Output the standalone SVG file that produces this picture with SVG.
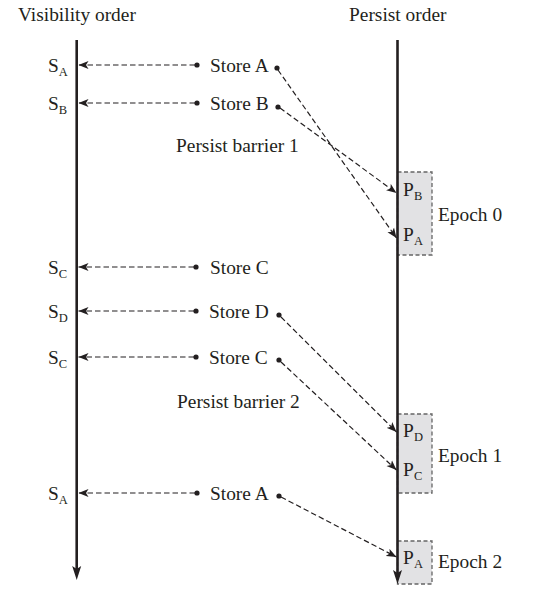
<svg xmlns="http://www.w3.org/2000/svg" width="546" height="602" viewBox="0 0 546 602">
<style>
text{font-family:"Liberation Serif","Times New Roman",serif;font-size:19.4px;fill:#231f20}
.sub{font-size:12.5px}
.dash{fill:none;stroke:#231f20;stroke-width:1.2;stroke-dasharray:5.5,3}
.axis{stroke:#231f20;stroke-width:2.6;fill:none}
.epoch{fill:#e2e2e4;stroke:#666;stroke-width:1.3;stroke-dasharray:4,2.5}
.dot{fill:#231f20}
</style>
<defs>
<marker id="ah" markerUnits="userSpaceOnUse" markerWidth="11" markerHeight="9" refX="10" refY="4.5" orient="auto">
<path d="M0,0.5 L10,4.5 L0,8.5 L2.5,4.5 z" fill="#231f20"/>
</marker>
</defs>
<rect width="546" height="602" fill="#fff"/>
<g id="epochs">
<g id="epoch0"><rect class="epoch" x="397.5" y="172" width="34.5" height="83"/><text x="438" y="221">Epoch 0</text></g>
<g id="epoch1"><rect class="epoch" x="397.5" y="414" width="34.5" height="79"/><text x="438" y="462">Epoch 1</text></g>
<g id="epoch2"><rect class="epoch" x="397.5" y="541" width="34.5" height="43"/><text x="438" y="568">Epoch 2</text></g>
</g>
<g id="axes">
<g id="visibility-axis">
<text x="18" y="21">Visibility order</text>
<line class="axis" x1="76.7" y1="40" x2="76.7" y2="570"/>
<path d="M76.7,580 L72.2,566 L76.7,569 L81.2,566 z" fill="#231f20"/>
</g>
<g id="persist-axis">
<text x="349" y="21">Persist order</text>
<line class="axis" x1="397.5" y1="40" x2="397.5" y2="574"/>
<path d="M397.5,584 L393,570 L397.5,573 L402,570 z" fill="#231f20"/>
</g>
</g>
<g id="visibility-labels">
<text x="48" y="72">S<tspan class="sub" y="76">A</tspan></text>
<text x="48" y="110">S<tspan class="sub" y="114">B</tspan></text>
<text x="48" y="274">S<tspan class="sub" y="278">C</tspan></text>
<text x="48" y="318">S<tspan class="sub" y="322">D</tspan></text>
<text x="48" y="364">S<tspan class="sub" y="368">C</tspan></text>
<text x="48" y="500">S<tspan class="sub" y="504">A</tspan></text>
</g>
<g id="stores">
<g id="store-a1"><circle class="dot" cx="197" cy="65" r="2.6"/><text x="210" y="72">Store A</text><circle class="dot" cx="277" cy="68" r="2.6"/></g>
<g id="store-b"><circle class="dot" cx="197" cy="103" r="2.6"/><text x="210" y="110">Store B</text><circle class="dot" cx="278" cy="107" r="2.6"/></g>
<g id="store-c1"><circle class="dot" cx="196" cy="267" r="2.6"/><text x="210" y="274">Store C</text></g>
<g id="store-d"><circle class="dot" cx="196" cy="311" r="2.6"/><text x="209" y="318">Store D</text><circle class="dot" cx="279" cy="315" r="2.6"/></g>
<g id="store-c2"><circle class="dot" cx="196" cy="357" r="2.6"/><text x="209" y="364">Store C</text><circle class="dot" cx="279" cy="360" r="2.6"/></g>
<g id="store-a2"><circle class="dot" cx="197" cy="493" r="2.6"/><text x="210" y="500">Store A</text><circle class="dot" cx="279" cy="496" r="2.6"/></g>
</g>
<g id="barriers">
<text x="176" y="152">Persist barrier 1</text>
<text x="177" y="408">Persist barrier 2</text>
</g>
<g id="persist-labels">
<text x="403" y="196">P<tspan class="sub" x="414" y="200">B</tspan></text>
<text x="403" y="241">P<tspan class="sub" x="414" y="245">A</tspan></text>
<text x="403" y="437">P<tspan class="sub" x="414" y="441">D</tspan></text>
<text x="403" y="476">P<tspan class="sub" x="414" y="480">C</tspan></text>
<text x="403" y="564">P<tspan class="sub" x="414" y="568">A</tspan></text>
</g>
<g id="connectors">
<line class="dash" x1="195" y1="65" x2="78.5" y2="65" marker-end="url(#ah)"/>
<line class="dash" x1="195" y1="103" x2="78.5" y2="103" marker-end="url(#ah)"/>
<line class="dash" x1="194" y1="267" x2="78.5" y2="267" marker-end="url(#ah)"/>
<line class="dash" x1="194" y1="311" x2="78.5" y2="311" marker-end="url(#ah)"/>
<line class="dash" x1="194" y1="357" x2="78.5" y2="357" marker-end="url(#ah)"/>
<line class="dash" x1="195" y1="493" x2="78.5" y2="493" marker-end="url(#ah)"/>
<line class="dash" x1="278" y1="70" x2="396.5" y2="238" marker-end="url(#ah)"/>
<line class="dash" x1="280" y1="108" x2="396.5" y2="193" marker-end="url(#ah)"/>
<line class="dash" x1="281" y1="317" x2="396.5" y2="432" marker-end="url(#ah)"/>
<line class="dash" x1="281" y1="362" x2="396.5" y2="470" marker-end="url(#ah)"/>
<line class="dash" x1="281" y1="497" x2="396.5" y2="557" marker-end="url(#ah)"/>
</g>
</svg>
